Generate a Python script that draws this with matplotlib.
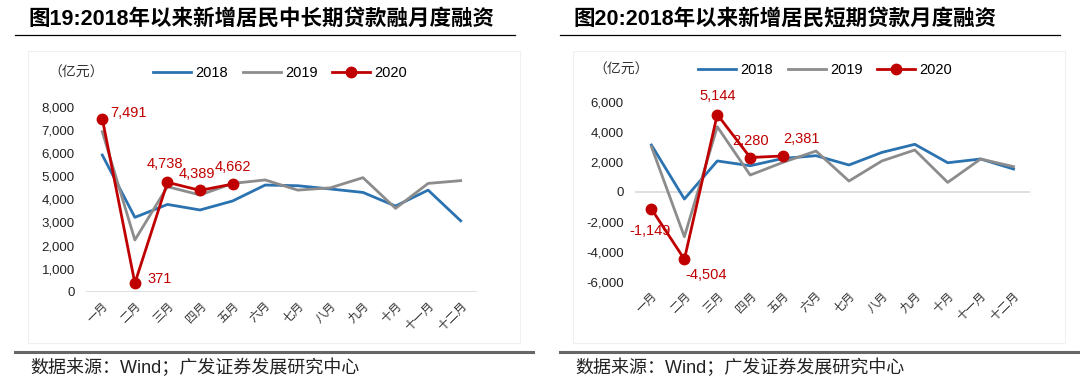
import matplotlib
matplotlib.use("Agg")
import matplotlib.pyplot as plt
from matplotlib.patches import Rectangle
from matplotlib.lines import Line2D

plt.rcParams['font.family'] = ['Liberation Sans', 'Noto Sans CJK SC', 'DejaVu Sans']

# --- datos ---
months = ["一月", "二月", "三月", "四月", "五月", "六月",
          "七月", "八月", "九月", "十月", "十一月", "十二月"]

long_2018 = [5920, 3220, 3780, 3540, 3930, 4620, 4590, 4450, 4300, 3710, 4400, 3070]
long_2019 = [6930, 2240, 4550, 4190, 4690, 4840, 4400, 4500, 4940, 3610, 4690, 4810]
long_2020 = [7491, 371, 4738, 4389, 4662]

short_2018 = [3110, -490, 2050, 1730, 2220, 2400, 1780, 2620, 3160, 1930, 2180, 1510]
short_2019 = [3000, -3000, 4330, 1110, 1960, 2710, 710, 2050, 2780, 620, 2180, 1670]
short_2020 = [-1149, -4504, 5144, 2280, 2381]

title_left = "图19:2018年以来新增居民中长期贷款融月度融资"
title_right = "图20:2018年以来新增居民短期贷款月度融资"
source = "数据来源：Wind；广发证券发展研究中心"

BLUE = "#2a72b0"
GREY = "#8c8c8c"
RED = "#c00000"
W, H = 1080, 386

fig = plt.figure(figsize=(W / 100, H / 100), dpi=100)


def px(x0, y0, x1, y1):
    # caja en pixeles -> fracciones de la figura
    return [x0 / W, 1 - y1 / H, (x1 - x0) / W, (y1 - y0) / H]


def panel(x_off, title, ax_box, ylim, yticks, s18, s19, s20, offsets, legend_y, title_x):
    # titulo y lineas
    fig.text((x_off + title_x) / W, 1 - 19 / H, title, fontsize=15.5, fontweight='bold',
             va='center', ha='left')
    fig.add_artist(Line2D([(x_off + 15) / W, (x_off + 515) / W], [1 - 35 / H] * 2,
                          color='black', lw=0.9))
    fig.add_artist(Rectangle(((x_off + 28) / W, 1 - 343 / H), 492 / W, 292 / H,
                             facecolor='white', edgecolor='#f0f0f0', lw=0.8, zorder=-5))
    fig.add_artist(Line2D([(x_off + 15) / W, (x_off + 533) / W], [1 - 352 / H] * 2,
                          color='#666666', lw=2.2))
    fig.text((x_off + 30) / W, 1 - 368 / H, source, fontsize=13, va='center', ha='left',
             color='#222222')
    fig.text((x_off + 48) / W, 1 - legend_y / H, "（亿元）", fontsize=10, va='center',
             ha='left', color='#333333')

    ax = fig.add_axes(ax_box)
    x = list(range(12))
    l1, = ax.plot(x, s18, color=BLUE, lw=2, label="2018", zorder=2)
    l2, = ax.plot(x, s19, color=GREY, lw=2, label="2019", zorder=2)
    l3, = ax.plot(x[:len(s20)], s20, color=RED, lw=2, marker='o', markersize=7.5,
                  label="2020", zorder=3)
    for i, v in enumerate(s20):
        dx, dy, ha = offsets[i]
        ax.annotate(f"{v:,}", (i, v), xytext=(dx, dy), textcoords='offset points',
                    ha=ha, va='center', color=RED, fontsize=10.5)

    ax.axhline(0, color='#d9d9d9', lw=1.2, zorder=1)
    ax.set_xlim(-0.5, 11.5)
    ax.set_ylim(*ylim)
    ax.set_yticks(yticks)
    ax.set_yticklabels([f"{t:,}" for t in yticks], fontsize=9.5, color='#222222')
    ax.set_xticks(x)
    ax.set_xticklabels(months, rotation=45, ha='right', rotation_mode='anchor',
                       fontsize=8.5, color='#333333')
    ax.tick_params(length=0, pad=8)
    ax.tick_params(axis='x', pad=6)
    for s in ax.spines.values():
        s.set_visible(False)
    ax.patch.set_alpha(0)

    fig.legend(handles=[l1, l2, l3], loc='center left', ncol=3, frameon=False,
               bbox_to_anchor=((x_off + 140) / W, 1 - legend_y / H),
               fontsize=10.5, handlelength=2.6, handletextpad=0.3, columnspacing=1.0)
    return ax


panel(0, title_left, px(86, 107, 477, 291.7), (0, 8000), list(range(0, 8001, 1000)),
      long_2018, long_2019, long_2020,
      [(6, 4, 'left'), (9, 3, 'left'), (-2, 13, 'center'), (-2, 12, 'center'), (0, 12, 'center')],
      73, 28)

panel(545, title_right, px(635, 101.7, 1030, 281.7), (-6000, 6000), list(range(-6000, 6001, 2000)),
      short_2018, short_2019, short_2020,
      [(-1, -16, 'center'), (16, -11, 'center'), (0, 13, 'center'), (0, 12, 'center'), (13, 12, 'center')],
      70, 28)

fig.savefig("out.png", dpi=100)
